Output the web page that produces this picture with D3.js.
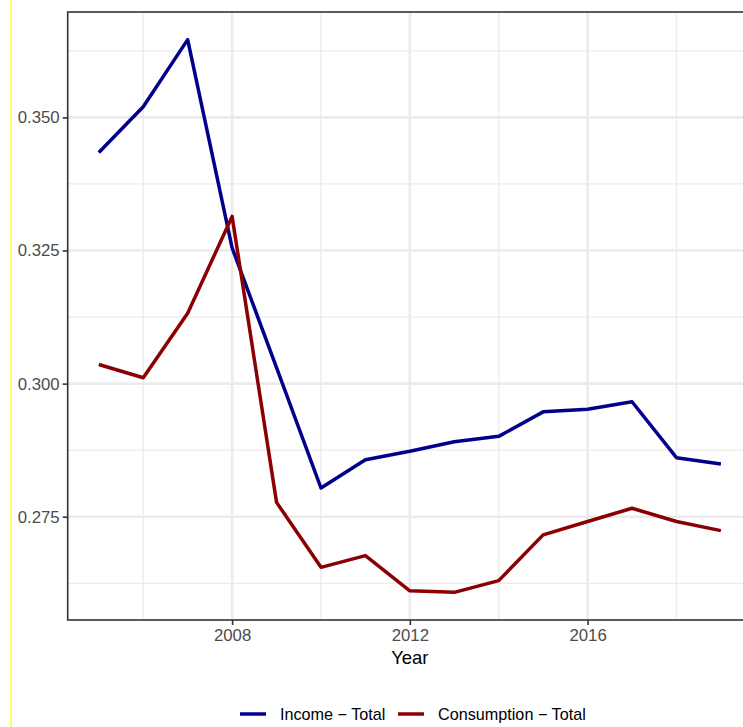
<!DOCTYPE html>
<html>
<head>
<meta charset="utf-8">
<script src="https://cdn.jsdelivr.net/npm/d3@7/dist/d3.min.js"></script>
<style>
  html, body { margin: 0; padding: 0; background: #fff; }
  svg { display: block; font-family: "Liberation Sans", Arial, sans-serif; }
</style>
</head>
<body>
<svg id="chart" width="743" height="727"></svg>
<script>
const years = [2005, 2006, 2007, 2008, 2009, 2010, 2011, 2012, 2013, 2014, 2015, 2016, 2017, 2018, 2019];
const incomeTotal = [0.3434, 0.3520, 0.3646, 0.3255, 0.3030, 0.2804, 0.2857, 0.2873, 0.2891, 0.2901, 0.2947, 0.2952, 0.2966, 0.2861, 0.2849];
const consumptionTotal = [0.3036, 0.3011, 0.3132, 0.3314, 0.2777, 0.2655, 0.2677, 0.2611, 0.2608, 0.2630, 0.2716, 0.2741, 0.2766, 0.2741, 0.2724];
const seriesNames = ["Income \u2212 Total", "Consumption \u2212 Total"];
const seriesColors = ["#00008B", "#8B0000"];
const xTicks = [2008, 2012, 2016];
const xMinorTicks = [2006, 2010, 2014, 2018];
const yTicks = [0.275, 0.300, 0.325, 0.350];
const yMinorTicks = [0.2625, 0.2875, 0.3125, 0.3375, 0.3625];

const svg = d3.select("#chart");
const W = 743, H = 727;
const panel = { left: 67.7, top: 12, right: 752, bottom: 620 };

// yellow guide line at left
svg.append("line").attr("x1", 11).attr("x2", 11).attr("y1", 0).attr("y2", H)
  .attr("stroke", "#FFFF00").attr("stroke-width", 1.2);

const xExt = d3.extent(years);
const xPad = (xExt[1] - xExt[0]) * 0.05;
const x = d3.scaleLinear().domain([xExt[0] - xPad, xExt[1] + xPad]).range([panel.left, panel.right]);

const allY = incomeTotal.concat(consumptionTotal);
const yExt = d3.extent(allY);
const yPad = (yExt[1] - yExt[0]) * 0.05;
const y = d3.scaleLinear().domain([yExt[0] - yPad, yExt[1] + yPad]).range([panel.bottom, panel.top]);

const g = svg.append("g");
g.append("rect").attr("x", panel.left).attr("y", panel.top)
  .attr("width", panel.right - panel.left).attr("height", panel.bottom - panel.top)
  .attr("fill", "#fff");

// minor grid
g.selectAll("line.ymin").data(yMinorTicks).join("line")
  .attr("x1", panel.left).attr("x2", panel.right)
  .attr("y1", d => y(d)).attr("y2", d => y(d))
  .attr("stroke", "#EBEBEB").attr("stroke-width", 1.3);
g.selectAll("line.xmin").data(xMinorTicks).join("line")
  .attr("y1", panel.top).attr("y2", panel.bottom)
  .attr("x1", d => x(d)).attr("x2", d => x(d))
  .attr("stroke", "#EBEBEB").attr("stroke-width", 1.3);
// major grid
g.selectAll("line.ymaj").data(yTicks).join("line")
  .attr("x1", panel.left).attr("x2", panel.right)
  .attr("y1", d => y(d)).attr("y2", d => y(d))
  .attr("stroke", "#EBEBEB").attr("stroke-width", 2.6);
g.selectAll("line.xmaj").data(xTicks).join("line")
  .attr("y1", panel.top).attr("y2", panel.bottom)
  .attr("x1", d => x(d)).attr("x2", d => x(d))
  .attr("stroke", "#EBEBEB").attr("stroke-width", 2.6);

// lines
const seriesData = [incomeTotal, consumptionTotal];
const line = d3.line().x((d, i) => x(years[i])).y(d => y(d));
seriesData.forEach((vals, k) => {
  g.append("path").datum(vals).attr("d", line)
    .attr("fill", "none").attr("stroke", seriesColors[k])
    .attr("stroke-width", 3.5).attr("stroke-linejoin", "round").attr("stroke-linecap", "butt");
});

// panel border
g.append("rect").attr("x", panel.left).attr("y", panel.top)
  .attr("width", panel.right - panel.left).attr("height", panel.bottom - panel.top)
  .attr("fill", "none").attr("stroke", "#333333").attr("stroke-width", 1.6);

// axes
const yAxis = d3.axisLeft(y).tickValues(yTicks).tickFormat(d3.format(".3f")).tickSize(5).tickPadding(3);
const yG = svg.append("g").attr("transform", `translate(${panel.left},0)`).call(yAxis);
yG.select(".domain").remove();
yG.selectAll(".tick line").attr("stroke", "#333333").attr("stroke-width", 1.6);
yG.selectAll(".tick text").attr("fill", "#4D4D4D").style("font-size", "16.8px")
  .attr("font-family", "Liberation Sans, Arial, sans-serif");

const xAxis = d3.axisBottom(x).tickValues(xTicks).tickFormat(d3.format("d")).tickSize(5).tickPadding(4);
const xG = svg.append("g").attr("transform", `translate(0,${panel.bottom})`).call(xAxis);
xG.select(".domain").remove();
xG.selectAll(".tick line").attr("stroke", "#333333").attr("stroke-width", 1.6);
xG.selectAll(".tick text").attr("fill", "#4D4D4D").style("font-size", "16.8px")
  .attr("font-family", "Liberation Sans, Arial, sans-serif");

// axis title
svg.append("text").attr("x", (panel.left + panel.right) / 2).attr("y", 664)
  .attr("text-anchor", "middle").attr("fill", "#000").style("font-size", "18.5px")
  .text("Year");

// legend
const legendY = 714;
const legendItems = [
  { key: 240, text: 280 },
  { key: 398, text: 438 }
];
seriesNames.forEach((name, k) => {
  svg.append("line").attr("x1", legendItems[k].key).attr("x2", legendItems[k].key + 26)
    .attr("y1", legendY).attr("y2", legendY)
    .attr("stroke", seriesColors[k]).attr("stroke-width", 3.5);
  svg.append("text").attr("x", legendItems[k].text).attr("y", legendY + 5.8)
    .attr("fill", "#000").style("font-size", "16.2px").text(name);
});
</script>
</body>
</html>
